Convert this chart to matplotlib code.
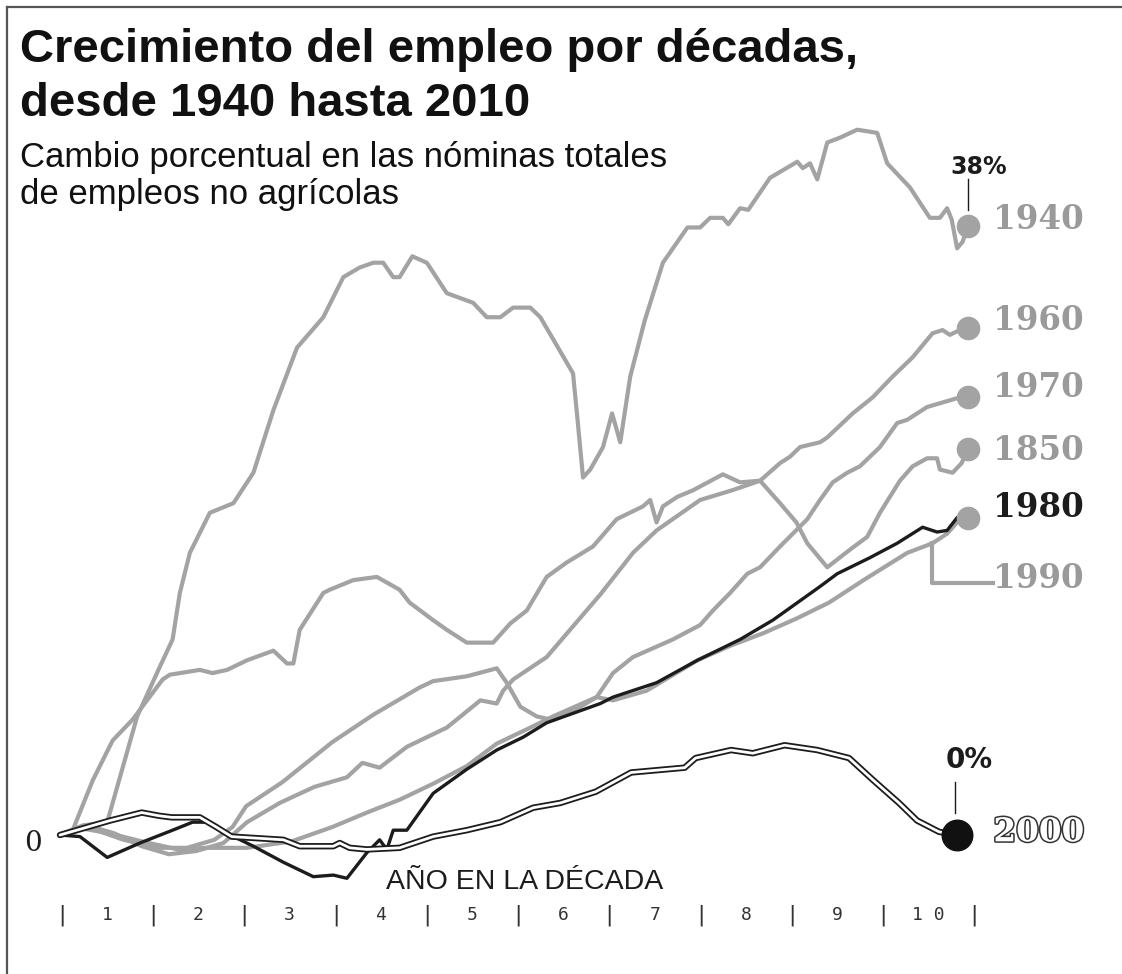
import matplotlib
matplotlib.use('Agg')
import matplotlib.pyplot as plt
import matplotlib.patheffects as pe
from matplotlib.lines import Line2D

# ---------------------------------------------------------------
# Donnees (annee dans la decennie, % de changement)
x1940 = [0, 0.25, 0.52, 0.85, 1.1, 1.24, 1.32, 1.43, 1.65, 1.91, 2.13, 2.35, 2.61, 2.9, 3.12, 3.3,
         3.45, 3.56, 3.67, 3.74, 3.88, 4.04, 4.26, 4.55, 4.7, 4.85, 4.99, 5.18, 5.29, 5.65, 5.7,
         5.76, 5.84, 5.98, 6.08, 6.17, 6.28, 6.44, 6.64, 6.91, 7.05, 7.16, 7.3, 7.36, 7.49, 7.58,
         7.82, 8.12, 8.18, 8.26, 8.34, 8.45, 8.59, 8.78, 9.0, 9.11, 9.36, 9.58, 9.69, 9.77, 9.82,
         9.88, 9.94, 10.0]
y1940 = [0, 0.6, 0.8, 7.4, 10.5, 12.2, 15.1, 17.6, 20.1, 20.7, 22.6, 26.5, 30.4, 32.3, 34.8, 35.4,
         35.7, 35.7, 34.8, 34.8, 36.1, 35.7, 33.8, 33.2, 32.3, 32.3, 32.9, 32.9, 32.3, 28.8, 25.9,
         22.3, 22.8, 24.2, 26.3, 24.5, 28.6, 32.1, 35.7, 37.9, 37.9, 38.5, 38.5, 38.1, 39.1, 39.0,
         41.0, 42.0, 41.6, 41.9, 40.9, 43.2, 43.5, 44.0, 43.8, 41.9, 40.4, 38.5, 38.5, 39.1, 38.4,
         36.6, 37.0, 38.0]

x1950 = [0, 0.14, 0.36, 0.58, 0.8, 1.13, 1.21, 1.54, 1.68, 1.84, 2.06, 2.35, 2.5, 2.57, 2.64, 2.9,
         2.97, 3.23, 3.49, 3.74, 3.85, 4.11, 4.26, 4.48, 4.77, 4.96, 5.14, 5.36, 5.58, 5.87, 6.13,
         6.42, 6.5, 6.57, 6.64, 6.8, 6.97, 7.3, 7.49, 7.71, 7.93, 8.11, 8.23, 8.45, 8.7, 8.89, 9.03,
         9.25, 9.39, 9.55, 9.66, 9.69, 9.83, 9.93, 10.0]
y1950 = [0, 0.3, 3.4, 5.9, 7.2, 9.7, 10.0, 10.3, 10.1, 10.3, 10.9, 11.5, 10.7, 10.7, 12.8, 15.1,
         15.3, 15.9, 16.1, 15.3, 14.5, 13.4, 12.8, 12.0, 12.0, 13.2, 14.0, 16.1, 17.0, 18.0, 19.7,
         20.5, 20.9, 19.5, 20.5, 21.1, 21.5, 22.5, 22.0, 22.1, 20.7, 19.5, 18.2, 16.7, 17.8, 18.6,
         20.1, 22.1, 23.0, 23.5, 23.5, 22.8, 22.6, 23.2, 24.1]

x1960 = [0, 0.3, 0.6, 0.9, 1.2, 1.5, 1.8, 2.06, 2.42, 2.8, 3.16, 3.33, 3.52, 3.82, 4.26, 4.63, 4.81,
         4.88, 4.99, 5.36, 5.95, 6.31, 6.57, 7.05, 7.4, 7.71, 7.93, 8.04, 8.15, 8.37, 8.45, 8.73,
         8.95, 9.17, 9.39, 9.61, 9.72, 9.8, 9.91, 10.0]
y1960 = [0, 0.6, 0.1, -0.7, -1.2, -1.0, -0.5, 0.8, 2.0, 3.0, 3.6, 4.5, 4.2, 5.5, 6.7, 8.4, 8.2,
         9.0, 9.7, 11.1, 15.0, 17.6, 19.0, 20.9, 21.5, 22.1, 23.2, 23.6, 24.2, 24.5, 24.8, 26.3,
         27.3, 28.6, 29.8, 31.3, 31.5, 31.2, 31.5, 31.6]

x1970 = [0, 0.3, 0.7, 1.1, 1.4, 1.7, 1.9, 2.05, 2.45, 3.0, 3.45, 3.96, 4.11, 4.48, 4.81, 4.92, 5.07,
         5.25, 5.4, 5.73, 5.91, 6.09, 6.31, 6.75, 7.05, 7.19, 7.38, 7.57, 7.71, 7.93, 8.23, 8.37,
         8.51, 8.67, 8.81, 9.03, 9.22, 9.33, 9.55, 9.91, 10.0]
y1970 = [0, 0.5, -0.3, -0.8, -0.8, -0.3, 0.5, 1.8, 3.3, 5.8, 7.5, 9.2, 9.6, 9.9, 10.4, 9.5, 8.0,
         7.4, 7.2, 8.0, 8.6, 10.1, 11.1, 12.2, 13.1, 14.0, 15.1, 16.3, 16.7, 18.0, 19.7, 20.9,
         22.0, 22.6, 23.0, 24.2, 25.7, 25.9, 26.7, 27.3, 27.3]

x1980 = [0, 0.22, 0.52, 0.88, 1.24, 1.46, 1.62, 1.84, 2.13, 2.46, 2.79, 3.01, 3.16, 3.38, 3.52, 3.6,
         3.67, 3.82, 4.11, 4.48, 4.81, 5.1, 5.36, 5.95, 6.09, 6.57, 7.02, 7.49, 7.85, 8.37, 8.56,
         8.92, 9.22, 9.5, 9.66, 9.77, 9.88, 10.0]
y1980 = [0, -0.1, -1.4, -0.5, 0.3, 0.8, 0.8, 0.1, -0.7, -1.7, -2.6, -2.5, -2.7, -1.1, -0.3, -0.9,
         0.3, 0.3, 2.6, 4.1, 5.3, 6.1, 7.0, 8.2, 8.6, 9.5, 10.9, 12.2, 13.4, 15.5, 16.3,
         17.3, 18.2, 19.2, 18.9, 19.0, 19.8, 19.8]

x1990 = [0, 0.25, 0.55, 0.9, 1.3, 1.6, 2.06, 2.55, 3.0, 3.38, 3.74, 4.11, 4.48, 4.81, 5.18, 5.43,
         5.91, 6.09, 6.46, 7.02, 7.38, 7.75, 8.11, 8.47, 8.85, 9.33, 9.61, 9.77, 9.91, 10.0]
y1990 = [0, 0.4, 0.1, -0.4, -0.9, -0.8, -0.8, -0.4, 0.5, 1.4, 2.2, 3.2, 4.3, 5.7, 6.7, 7.4,
         8.6, 8.4, 9.0, 10.9, 11.8, 12.6, 13.5, 14.5, 15.9, 17.6, 18.2, 18.8, 19.7, 19.8]

x2000 = [0, 0.55, 0.9, 1.09, 1.23, 1.54, 1.72, 1.89, 2.46, 2.64, 3.01, 3.08, 3.19, 3.38, 3.74, 4.11,
         4.48, 4.85, 5.21, 5.51, 5.9, 6.29, 6.88, 7.0, 7.39, 7.63, 7.98, 8.34, 8.69, 8.96, 9.24,
         9.44, 9.68, 9.88]
y2000 = [0, 0.9, 1.4, 1.2, 1.1, 1.1, 0.5, -0.1, -0.3, -0.7, -0.7, -0.5, -0.8, -0.9, -0.8, -0.1,
         0.3, 0.8, 1.7, 2.0, 2.7, 3.9, 4.2, 4.8, 5.3, 5.1, 5.6, 5.3, 4.8, 3.4, 2.0,
         0.9, 0.2, 0.0]

etiquettes = ['1940', '1960', '1970', '1850', '1980', '1990']
label_y = [38.4, 32.1, 27.9, 24.0, 20.4, 16.0]
annees = ['1', '2', '3', '4', '5', '6', '7', '8', '9', '1 0']

gris = '#a3a3a3'
noir = '#1c1c1c'

# ---------------------------------------------------------------
W, H = 1122, 974
fig = plt.figure(figsize=(W / 100, H / 100), dpi=100)
ax = fig.add_axes([0, 0, 1, 1])
# echelle : annee 0 -> px 60, annee 10 -> px 968 ; 0 % -> px 835, 38 % -> px 226
ax.set_xlim(-60 / 90.8, (W - 60) / 90.8)
ax.set_ylim(-(H - 835) / 16.03, 835 / 16.03)
ax.axis('off')

# cadre (gauche et haut)
fig.add_artist(Line2D([7 / W, 7 / W], [0, 1 - 7 / H], color='#555555', lw=1.6))
fig.add_artist(Line2D([7 / W, 1], [1 - 7 / H, 1 - 7 / H], color='#555555', lw=1.6))

# lignes grises
for xs, ys in [(x1940, y1940), (x1950, y1950), (x1960, y1960), (x1970, y1970), (x1990, y1990)]:
    ax.plot(xs, ys, color=gris, lw=3.0, solid_joinstyle='round', zorder=2)

# 1980 en noir
ax.plot(x1980, y1980, color=noir, lw=2.4, zorder=3)

# 2000 : double trait
ax.plot(x2000, y2000, color=noir, lw=4.6, zorder=4, solid_capstyle='round')
ax.plot(x2000, y2000, color='white', lw=2.0, zorder=5, solid_capstyle='round')

# points de fin
ax.plot([x1940[-1], x1960[-1], x1970[-1], x1950[-1], x1980[-1]],
        [y1940[-1], y1960[-1], y1970[-1], y1950[-1], y1980[-1]],
        'o', color=gris, ms=16, zorder=6)
ax.plot(x2000[-1], y2000[-1], 'o', color='#111111', ms=22, zorder=6)

# etiquettes de decennie
for lab, yy in zip(etiquettes, label_y):
    c = noir if lab == '1980' else '#9a9a9a'
    ax.text(10.28, yy, lab, color=c, fontsize=23.5, fontweight='bold',
            family='DejaVu Serif', va='center', ha='left')
ax.text(10.28, 0.2, '2000', color='white', fontsize=23.5, fontweight='bold',
        family='DejaVu Serif', va='center', ha='left',
        path_effects=[pe.withStroke(linewidth=2.2, foreground='#333333')])

# crochet 1990
ax.plot([9.6, 9.6, 10.28], [18.2, 15.7, 15.7], color=gris, lw=3.0, zorder=2)

# annotations 38 % et 0 %
ax.text(10.12, 41.7, '38%', fontsize=17, fontweight='bold', color=noir,
        ha='center', va='center')
ax.plot([10.0, 10.0], [39.0, 40.9], color=noir, lw=1)
ax.text(10.01, 4.7, '0%', fontsize=20, fontweight='bold', color=noir,
        ha='center', va='center')
ax.plot([9.86, 9.86], [1.4, 3.3], color=noir, lw=1)

# zero
ax.text(-0.30, -0.5, '0', fontsize=20, family='DejaVu Serif', color=noir,
        ha='center', va='center')

# axe des annees
ax.text(5.12, -2.95, 'AÑO EN LA DÉCADA', fontsize=20.5, family='Liberation Sans',
        color=noir, ha='center', va='center')
for k in range(11):
    ax.text(k * 1.005 + 0.02, -5.0, '|', fontsize=16, family='DejaVu Sans Mono',
            color='#333333', ha='center', va='center')
for k, a in enumerate(annees):
    ax.text(k * 1.005 + 0.52, -5.0, a, fontsize=13, family='DejaVu Sans Mono',
            color='#333333', ha='center', va='center')

# titres
fig.text(20 / W, 1 - 62 / H, 'Crecimiento del empleo por décadas,', fontsize=34,
         fontweight='bold', family='Liberation Sans', color='#111111', va='baseline')
fig.text(20 / W, 1 - 116 / H, 'desde 1940 hasta 2010', fontsize=34,
         fontweight='bold', family='Liberation Sans', color='#111111', va='baseline')
fig.text(20 / W, 1 - 167 / H, 'Cambio porcentual en las nóminas totales', fontsize=25,
         family='Liberation Sans', color='#111111', va='baseline')
fig.text(20 / W, 1 - 204 / H, 'de empleos no agrícolas', fontsize=25,
         family='Liberation Sans', color='#111111', va='baseline')

plt.savefig('out.png', dpi=100)
